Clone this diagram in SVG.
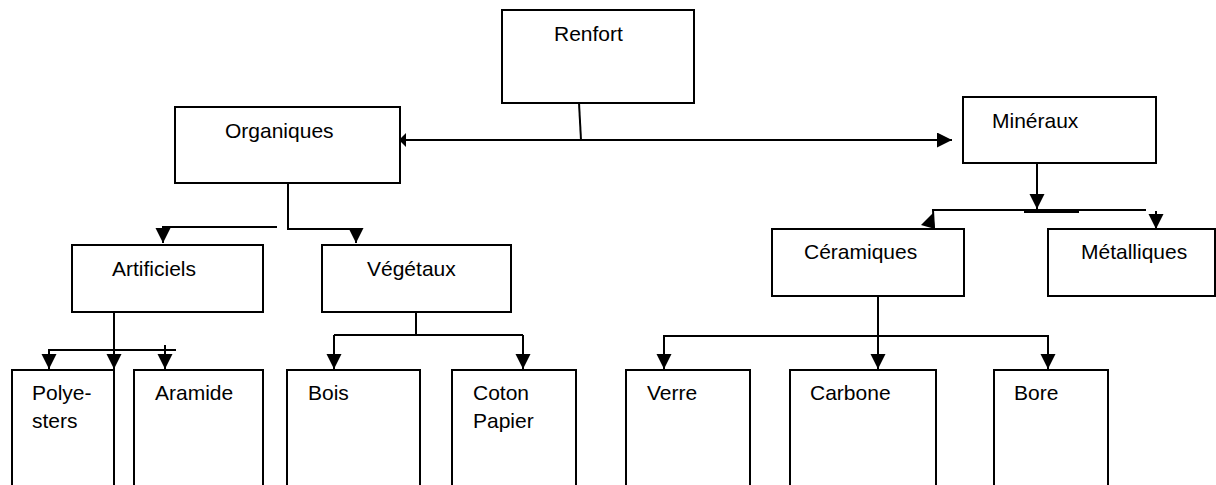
<svg xmlns="http://www.w3.org/2000/svg" width="1216" height="485" viewBox="0 0 1216 485">
<style>
.box{fill:#fff;stroke:#000;stroke-width:2}
.t{font-family:"Liberation Sans",Arial,sans-serif;font-size:21px;fill:#000}
.c{stroke:#000;stroke-width:2;fill:none}
.h{fill:#000}
</style>
<defs>
<marker id="arr" markerUnits="userSpaceOnUse" markerWidth="16" markerHeight="16" refX="15" refY="7.5" orient="auto">
<path d="M0,0 L15,7.5 L0,15 z" fill="#000"/>
</marker>
</defs>
<rect width="1216" height="485" fill="#fff"/>
<g id="renfort"><rect class="box" x="502" y="10" width="192" height="93"/><text class="t" x="554" y="41">Renfort</text></g>
<g id="organiques"><rect class="box" x="175" y="107" width="225" height="76"/><text class="t" x="225" y="138">Organiques</text></g>
<g id="mineraux"><rect class="box" x="963" y="97" width="193" height="66"/><text class="t" x="992" y="128">Minéraux</text></g>
<g id="artificiels"><rect class="box" x="72" y="245" width="191" height="67"/><text class="t" x="112" y="276">Artificiels</text></g>
<g id="vegetaux"><rect class="box" x="322" y="245" width="189" height="67"/><text class="t" x="367" y="276">Végétaux</text></g>
<g id="ceramiques"><rect class="box" x="772" y="229" width="192" height="67"/><text class="t" x="804" y="259">Céramiques</text></g>
<g id="metalliques"><rect class="box" x="1048" y="229" width="167" height="67"/><text class="t" x="1081" y="259">Métalliques</text></g>
<g id="polyesters"><rect class="box" x="12" y="370" width="102" height="130"/><text class="t" x="32" y="400">Polye-</text><text class="t" x="32" y="428">sters</text></g>
<g id="aramide"><rect class="box" x="134" y="370" width="129" height="130"/><text class="t" x="155" y="400">Aramide</text></g>
<g id="bois"><rect class="box" x="287" y="370" width="133" height="130"/><text class="t" x="308" y="400">Bois</text></g>
<g id="coton"><rect class="box" x="452" y="370" width="124" height="130"/><text class="t" x="473" y="400">Coton</text><text class="t" x="473" y="428">Papier</text></g>
<g id="verre"><rect class="box" x="626" y="370" width="124" height="130"/><text class="t" x="647" y="400">Verre</text></g>
<g id="carbone"><rect class="box" x="790" y="370" width="146" height="130"/><text class="t" x="810" y="400">Carbone</text></g>
<g id="bore"><rect class="box" x="994" y="370" width="114" height="130"/><text class="t" x="1014" y="400">Bore</text></g>
<g id="connectors">
<path class="c" d="M579,103 L581,140"/>
<path class="c" d="M405,140 L952,140" marker-end="url(#arr)"/>
<polygon class="h" points="399,140 406,133 406,147"/>
<path class="c" d="M288,183 L288,229 L356,229 L356,243" marker-end="url(#arr)"/>
<path class="c" d="M277,227 L163,227 L163,243" marker-end="url(#arr)"/>
<path class="c" d="M1037,163 L1037,209" marker-end="url(#arr)"/>
<path class="c" d="M1146,210 L933,210 L934,229"/>
<path d="M1024,211.5 L1079,211.5" stroke="#000" stroke-width="3"/>
<polygon class="h" points="933,213 921,225 935,229"/>
<path class="c" d="M1156,211 L1156,229" marker-end="url(#arr)"/>
<path class="c" d="M114,312 L114,369" marker-end="url(#arr)"/>
<path class="c" d="M176,350 L49,350 L49,369" marker-end="url(#arr)"/>
<path class="c" d="M165,345 L165,369" marker-end="url(#arr)"/>
<path class="c" d="M416,312 L416,335"/>
<path class="c" d="M334,335 L523,335"/>
<path class="c" d="M334,335 L334,369" marker-end="url(#arr)"/>
<path class="c" d="M523,335 L523,369" marker-end="url(#arr)"/>
<path class="c" d="M878,296 L878,369" marker-end="url(#arr)"/>
<path class="c" d="M664,369 L664,336 L1048,336 L1048,369" marker-end="url(#arr)"/>
<path class="c" d="M664,336 L664,369" marker-end="url(#arr)"/>
</g>
</svg>
